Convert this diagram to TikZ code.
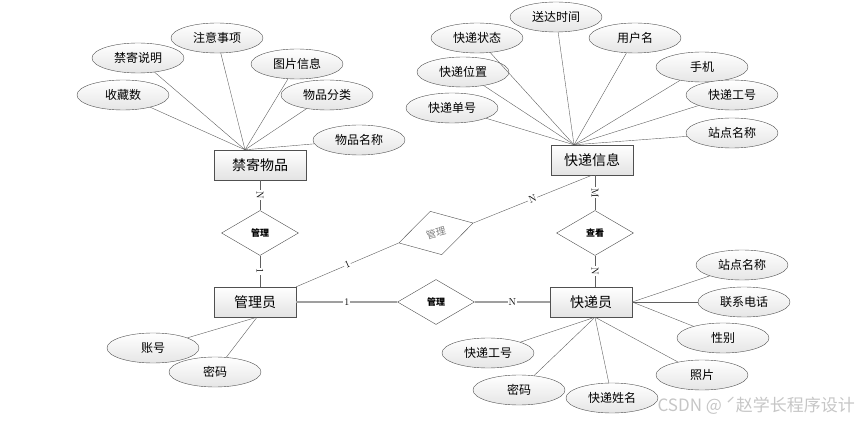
\documentclass[tikz,border=0pt]{standalone}
\usepackage{fontspec}
\newfontfamily\cjk{Noto Sans CJK SC}
\usepackage{xcolor}
\usepackage{tikz}
\definecolor{edgegray}{RGB}{80, 80, 80}
\definecolor{linegray}{RGB}{95, 95, 95}
\usetikzlibrary{shapes.geometric, positioning, calc}

\begin{document}
\begin{tikzpicture}[
    x=1pt, y=-1pt,
    entity/.style={rectangle, draw=edgegray, top color=white, bottom color=gray!22,
                   minimum width=82pt, minimum height=30pt, font=\cjk\fontsize{14}{16}\selectfont},
    attr/.style={ellipse, draw=edgegray, top color=white, bottom color=gray!20, inner sep=0pt,
                 minimum width=92pt, minimum height=30pt, font=\cjk\fontsize{12}{14}\selectfont},
    rel/.style={diamond, draw=edgegray, fill=white, inner sep=0pt,
                minimum width=77pt, minimum height=45pt, font=\cjk\bfseries\fontsize{9}{11}\selectfont},
    card/.style={fill=white, inner sep=1pt, font=\normalsize},
    link/.style={draw=linegray, thin},
    flatlink/.style={draw=gray!75, line width=1.2pt}
]
    \useasboundingbox (0,0) rectangle (855,422);

    % Entities
    \node[entity, minimum width=92pt] (jjwp) at (260,165) {禁寄物品};
    \node[entity] (kdxx) at (592,160) {快递信息};
    \node[entity] (gly) at (255,302) {管理员};
    \node[entity] (kdy) at (591,302) {快递员};

    % Relations
    \node[rel] (glA) at (260,233) {管理};
    \node[rel] (glB) at (436,302) {管理};
    \node[rel] (ck) at (595,233) {查看};
    \node[rel, rotate=15, text=gray, font=\cjk\fontsize{10}{12}\selectfont] (glC) at (436,233) {管理};

    % Attributes of jjwp
    \node[attr] (scs)  at (123,95)  {收藏数};
    \node[attr] (jjsm) at (138,58)  {禁寄说明};
    \node[attr] (zysx) at (217,38)  {注意事项};
    \node[attr] (tpxx) at (297,64)  {图片信息};
    \node[attr] (wpfl) at (327,95)  {物品分类};
    \node[attr] (wpmc) at (359,140) {物品名称};
    \coordinate (jjhub) at ($(jjwp.north)+(-15,0)$);
    \foreach \a in {scs,jjsm,zysx,tpxx,wpfl,wpmc}
        \draw[link] (\a) -- (jjhub);

    % Attributes of kdxx
    \node[attr] (kddh) at (452,108) {快递单号};
    \node[attr] (kdwz) at (463,72)  {快递位置};
    \node[attr] (kdzt) at (477,38)  {快递状态};
    \node[attr] (sdsj) at (556,17)  {送达时间};
    \node[attr] (yhm)  at (635,38)  {用户名};
    \node[attr] (sj)   at (702,67)  {手机};
    \node[attr] (kdgh) at (732,95)  {快递工号};
    \node[attr] (zdmc) at (732,133) {站点名称};
    \coordinate (kdhub) at ($(kdxx.north)+(-18,0)$);
    \foreach \a in {kddh,kdwz,kdzt,sdsj,yhm,sj,kdgh,zdmc}
        \draw[link] (\a) -- (kdhub);

    % Attributes of gly
    \node[attr] (zh) at (153,348) {账号};
    \node[attr] (mm) at (215,372) {密码};
    \coordinate (glyhub) at ($(gly.south)+(2,0)$);
    \foreach \a in {zh,mm}
        \draw[link] (\a) -- (glyhub);

    % Attributes of kdy
    \node[attr] (kdyzd) at (742,265) {站点名称};
    \node[attr] (lxdh)  at (744,302) {联系电话};
    \node[attr] (xb)    at (723,338) {性别};
    \node[attr] (zp)    at (702,375) {照片};
    \node[attr] (kdxm)  at (612,398) {快递姓名};
    \node[attr] (kdymm) at (519,390) {密码};
    \node[attr] (kdygh) at (488,353) {快递工号};
    \coordinate (kdyhub) at ($(kdy.south)+(4,0)$);
    \foreach \a in {kdyzd,lxdh,xb}
        \draw[link] (\a) -- (kdy.east);
    \foreach \a in {zp,kdxm,kdymm,kdygh}
        \draw[link] (\a) -- (kdyhub);

    % Relation links
    \draw[link] (glA.north |- jjwp.south) -- node[card, rotate=-90] {N} (glA.north);
    \draw[link] (glA.south) -- node[card, rotate=-90] {1} (glA.south |- gly.north);
    \draw[link] (ck.north |- kdxx.south) -- node[card, rotate=-90] {M} (ck.north);
    \draw[link] (ck.south) -- node[card, rotate=-90] {N} (ck.south |- kdy.north);
    \draw[flatlink] (gly.east) -- node[card] {1} (glB.west);
    \draw[flatlink] (glB.east) -- node[card] {N} (kdy.west);
    \draw[link] (gly.north east) -- node[card, sloped] {1} (glC.west);
    \draw[link] (glC.east) -- node[card, sloped] {N} (kdxx.south);

    % Watermark
    \node[anchor=west, text=gray!45, font=\cjk\fontsize{17}{19}\selectfont] (wm) at (654,406) {CSDN @ ˊ赵学长程序设计};
\end{tikzpicture}
\end{document}
